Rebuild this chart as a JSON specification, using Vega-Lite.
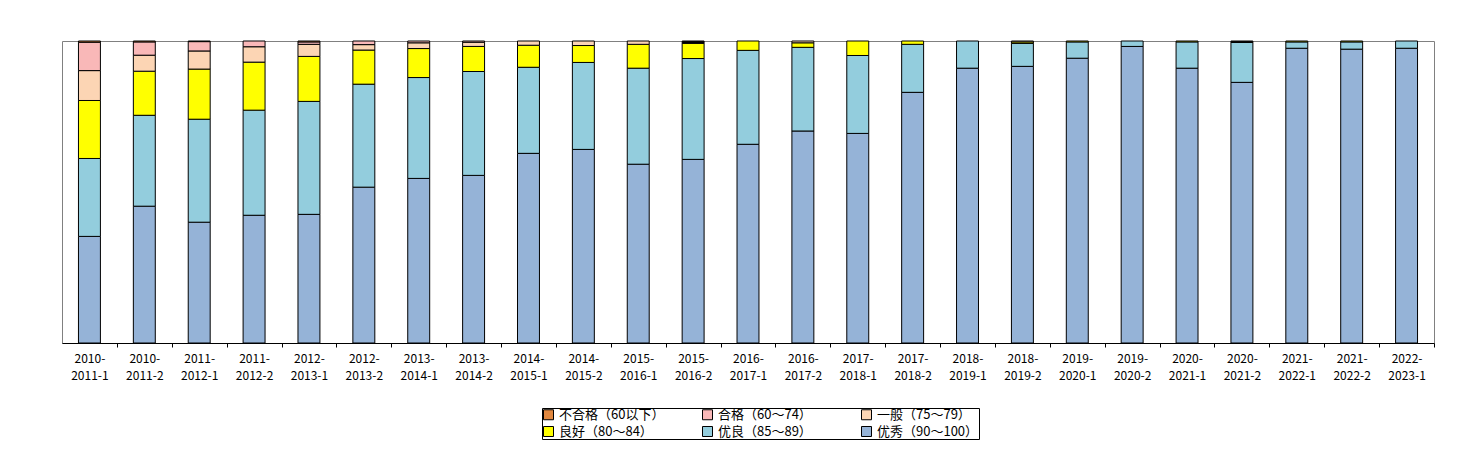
{
  "$schema": "https://vega.github.io/schema/vega-lite/v6.json",
  "width": 1372,
  "height": 302,
  "padding": {"left": 62, "top": 40, "right": 40, "bottom": 10},
  "background": "white",
  "config": {
    "view": {"stroke": "#808080", "strokeWidth": 1},
    "font": "Noto Sans CJK SC"
  },
  "datasets": {
    "grades": [
      {"t":"2010-2011-1","o":1,"v":35.3},{"t":"2010-2011-1","o":2,"v":25.8},{"t":"2010-2011-1","o":3,"v":19.2},{"t":"2010-2011-1","o":4,"v":9.9},{"t":"2010-2011-1","o":5,"v":9.4},{"t":"2010-2011-1","o":6,"v":0.4},
      {"t":"2010-2011-2","o":1,"v":45.3},{"t":"2010-2011-2","o":2,"v":30.1},{"t":"2010-2011-2","o":3,"v":14.6},{"t":"2010-2011-2","o":4,"v":5.3},{"t":"2010-2011-2","o":5,"v":4.4},{"t":"2010-2011-2","o":6,"v":0.3},
      {"t":"2011-2012-1","o":1,"v":40.0},{"t":"2011-2012-1","o":2,"v":34.1},{"t":"2011-2012-1","o":3,"v":16.6},{"t":"2011-2012-1","o":4,"v":6.0},{"t":"2011-2012-1","o":5,"v":3.1},{"t":"2011-2012-1","o":6,"v":0.2},
      {"t":"2011-2012-2","o":1,"v":42.3},{"t":"2011-2012-2","o":2,"v":34.8},{"t":"2011-2012-2","o":3,"v":15.9},{"t":"2011-2012-2","o":4,"v":5.1},{"t":"2011-2012-2","o":5,"v":1.9},
      {"t":"2012-2013-1","o":1,"v":42.6},{"t":"2012-2013-1","o":2,"v":37.4},{"t":"2012-2013-1","o":3,"v":14.9},{"t":"2012-2013-1","o":4,"v":4.0},{"t":"2012-2013-1","o":5,"v":0.8},{"t":"2012-2013-1","o":6,"v":0.3},
      {"t":"2012-2013-2","o":1,"v":51.6},{"t":"2012-2013-2","o":2,"v":34.1},{"t":"2012-2013-2","o":3,"v":11.3},{"t":"2012-2013-2","o":4,"v":1.8},{"t":"2012-2013-2","o":5,"v":1.2},
      {"t":"2013-2014-1","o":1,"v":54.5},{"t":"2013-2014-1","o":2,"v":33.4},{"t":"2013-2014-1","o":3,"v":9.6},{"t":"2013-2014-1","o":4,"v":1.9},{"t":"2013-2014-1","o":5,"v":0.6},
      {"t":"2013-2014-2","o":1,"v":55.5},{"t":"2013-2014-2","o":2,"v":34.4},{"t":"2013-2014-2","o":3,"v":8.3},{"t":"2013-2014-2","o":4,"v":1.4},{"t":"2013-2014-2","o":5,"v":0.4},
      {"t":"2014-2015-1","o":1,"v":62.8},{"t":"2014-2015-1","o":2,"v":28.5},{"t":"2014-2015-1","o":3,"v":7.3},{"t":"2014-2015-1","o":4,"v":1.4},
      {"t":"2014-2015-2","o":1,"v":64.1},{"t":"2014-2015-2","o":2,"v":28.8},{"t":"2014-2015-2","o":3,"v":5.6},{"t":"2014-2015-2","o":4,"v":1.5},
      {"t":"2015-2016-1","o":1,"v":59.2},{"t":"2015-2016-1","o":2,"v":31.8},{"t":"2015-2016-1","o":3,"v":7.9},{"t":"2015-2016-1","o":4,"v":1.1},
      {"t":"2015-2016-2","o":1,"v":60.8},{"t":"2015-2016-2","o":2,"v":33.4},{"t":"2015-2016-2","o":3,"v":5.0},{"t":"2015-2016-2","o":4,"v":0.3},{"t":"2015-2016-2","o":5,"v":0.3},{"t":"2015-2016-2","o":6,"v":0.2},
      {"t":"2016-2017-1","o":1,"v":65.8},{"t":"2016-2017-1","o":2,"v":31.1},{"t":"2016-2017-1","o":3,"v":3.1},
      {"t":"2016-2017-2","o":1,"v":70.2},{"t":"2016-2017-2","o":2,"v":27.7},{"t":"2016-2017-2","o":3,"v":1.5},{"t":"2016-2017-2","o":4,"v":0.6},
      {"t":"2017-2018-1","o":1,"v":69.4},{"t":"2017-2018-1","o":2,"v":25.8},{"t":"2017-2018-1","o":3,"v":4.8},
      {"t":"2017-2018-2","o":1,"v":83.0},{"t":"2017-2018-2","o":2,"v":15.9},{"t":"2017-2018-2","o":3,"v":1.1},
      {"t":"2018-2019-1","o":1,"v":91.0},{"t":"2018-2019-1","o":2,"v":9.0},
      {"t":"2018-2019-2","o":1,"v":91.6},{"t":"2018-2019-2","o":2,"v":7.6},{"t":"2018-2019-2","o":3,"v":0.5},{"t":"2018-2019-2","o":4,"v":0.3},
      {"t":"2019-2020-1","o":1,"v":94.3},{"t":"2019-2020-1","o":2,"v":5.4},{"t":"2019-2020-1","o":3,"v":0.3},
      {"t":"2019-2020-2","o":1,"v":98.2},{"t":"2019-2020-2","o":2,"v":1.8},
      {"t":"2020-2021-1","o":1,"v":91.0},{"t":"2020-2021-1","o":2,"v":8.7},{"t":"2020-2021-1","o":3,"v":0.3},
      {"t":"2020-2021-2","o":1,"v":86.3},{"t":"2020-2021-2","o":2,"v":13.2},{"t":"2020-2021-2","o":3,"v":0.3},{"t":"2020-2021-2","o":4,"v":0.2},
      {"t":"2021-2022-1","o":1,"v":97.6},{"t":"2021-2022-1","o":2,"v":2.1},{"t":"2021-2022-1","o":3,"v":0.3},
      {"t":"2021-2022-2","o":1,"v":97.3},{"t":"2021-2022-2","o":2,"v":2.4},{"t":"2021-2022-2","o":3,"v":0.3},
      {"t":"2022-2023-1","o":1,"v":97.6},{"t":"2022-2023-1","o":2,"v":2.4}
    ],
    "names": [
      {"o":1,"g":"优秀（90～100）"},
      {"o":2,"g":"优良（85～89）"},
      {"o":3,"g":"良好（80～84）"},
      {"o":4,"g":"一般（75～79）"},
      {"o":5,"g":"合格（60～74）"},
      {"o":6,"g":"不合格（60以下）"}
    ]
  },
  "data": {"name": "grades"},
  "transform": [
    {"lookup": "o", "from": {"data": {"name": "names"}, "key": "o", "fields": ["g"]}}
  ],
  "mark": {"type": "bar", "stroke": "black", "strokeWidth": 1},
  "encoding": {
    "x": {
      "field": "t",
      "type": "nominal",
      "sort": null,
      "scale": {"paddingInner": 0.6, "paddingOuter": 0.3},
      "axis": {
        "title": null,
        "labelAngle": 0,
        "labelExpr": "[slice(datum.value,0,5), slice(datum.value,5)]",
        "labelFontSize": 12,
        "labelColor": "black",
        "labelLineHeight": 17,
        "labelPadding": 6,
        "domainColor": "black",
        "tickColor": "black",
        "tickSize": 4,
        "tickOffset": 27.44,
        "labelOffset": -27.44
      }
    },
    "y": {
      "field": "v",
      "type": "quantitative",
      "stack": "normalize",
      "axis": null
    },
    "order": {"field": "o", "type": "quantitative"},
    "color": {
      "field": "g",
      "type": "nominal",
      "scale": {
        "domain": ["不合格（60以下）", "合格（60～74）", "一般（75～79）", "良好（80～84）", "优良（85～89）", "优秀（90～100）"],
        "range": ["#E0873F", "#F9B8B8", "#FCD5B4", "#FFFF00", "#93CDDD", "#95B3D7"]
      },
      "legend": {
        "title": null,
        "orient": "none",
        "legendX": 480,
        "legendY": 367,
        "direction": "horizontal",
        "columns": 3,
        "gridAlign": "all",
        "columnPadding": 35,
        "strokeColor": "black",
        "symbolType": "square",
        "symbolStrokeColor": "black",
        "symbolStrokeWidth": 1,
        "labelFontSize": 13,
        "labelColor": "black"
      }
    }
  }
}
